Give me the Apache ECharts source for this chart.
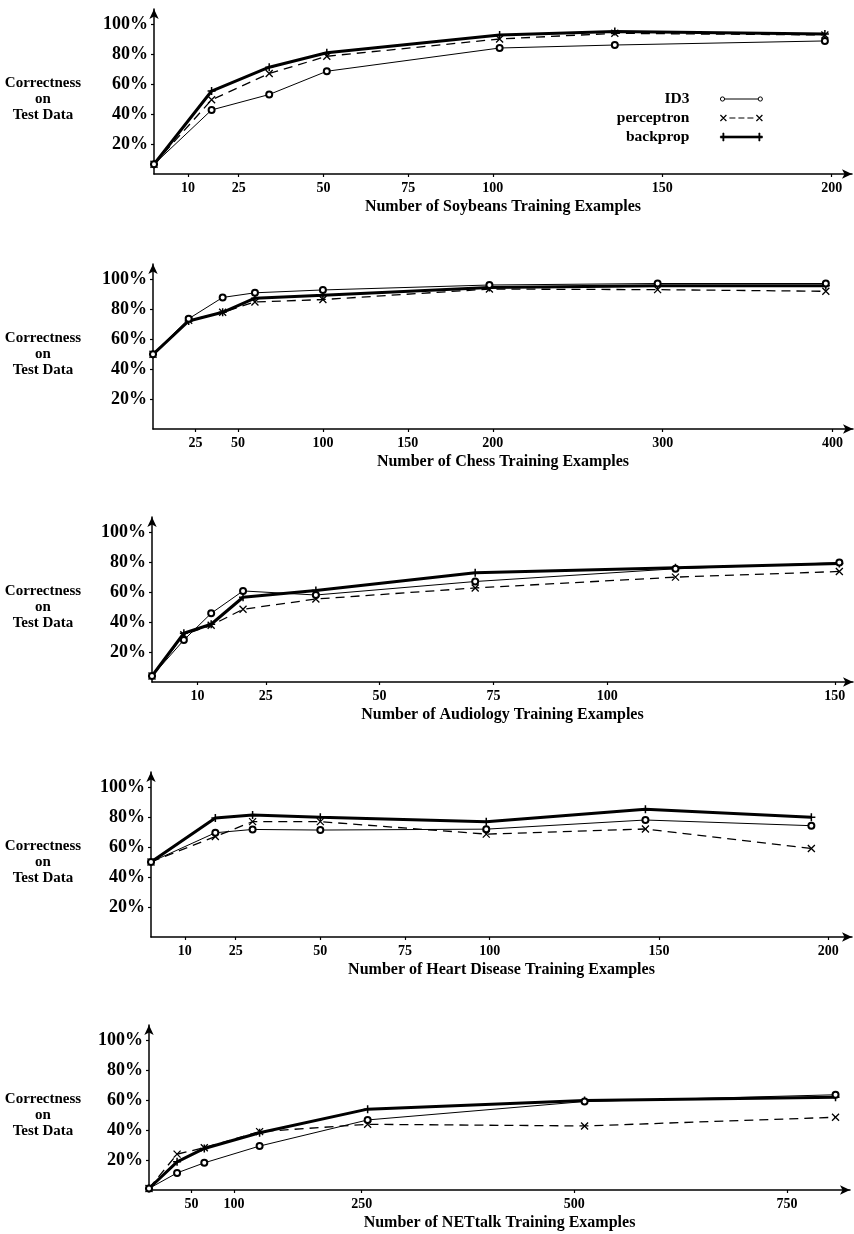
<!DOCTYPE html>
<html>
<head>
<meta charset="utf-8">
<script src="https://cdn.jsdelivr.net/npm/echarts@6/dist/echarts.min.js"></script>
<style>
html,body{margin:0;padding:0;background:#fff;}
#chart{width:854px;height:1234px;}
</style>
</head>
<body>
<div id="chart"></div>
<script>
// ---------- DATA ----------
const methodNames = ['ID3', 'perceptron', 'backprop'];
const yTickValues = [20, 40, 60, 80, 100];

// Soybeans
const soyTitle = 'Number of Soybeans Training Examples';
const soyTicks = [10, 25, 50, 75, 100, 150, 200];
const soyX     = [0, 17, 34, 51, 102, 136, 198];
const soyID3   = [6.5, 42.7, 53, 68.5, 84, 86, 88.7];
const soyPerc  = [6.5, 49.5, 67, 78.5, 90, 93.8, 92.7];
const soyBP    = [6.5, 55.3, 71.2, 80.8, 92.7, 95, 93.3];

// Chess
const chessTitle = 'Number of Chess Training Examples';
const chessTicks = [25, 50, 100, 150, 200, 300, 400];
const chessX     = [0, 21, 41, 60, 100, 198, 297, 396];
const chessID3   = [49.8, 73.5, 87.7, 90.8, 92.7, 96, 97, 97];
const chessPerc  = [49.8, 72.5, 77.8, 84.7, 86.3, 93.3, 92.9, 91.8];
const chessBP    = [49.8, 72, 77.8, 87.2, 89.2, 94.4, 95.5, 95.5];

// Audiology
const audTitle = 'Number of Audiology Training Examples';
const audTicks = [10, 25, 50, 75, 100, 150];
const audX     = [0, 7, 13, 20, 36, 71, 115, 151];
const audID3   = [4, 28, 45.8, 60.7, 58, 67, 75.5, 79.6];
const audPerc  = [4, 31.5, 37.8, 48.5, 55.3, 62.7, 69.9, 73.7];
const audBP    = [4, 32.5, 38.5, 56.5, 61, 72.8, 76.2, 79];

// Heart disease
const heartTitle = 'Number of Heart Disease Training Examples';
const heartTicks = [10, 25, 50, 75, 100, 150, 200];
const heartX     = [0, 19, 30, 50, 99, 146, 195];
const heartID3   = [50, 69.5, 71.7, 71.3, 71.9, 78, 74.2];
const heartPerc  = [50, 67, 76.9, 76.9, 68.6, 72, 59];
const heartBP    = [50, 79.3, 81.3, 79.8, 76.9, 85.1, 79.8];

// NETtalk
const netTitle = 'Number of NETtalk Training Examples';
const netTicks = [50, 100, 250, 500, 750];
const netX     = [0, 33, 65, 130, 257, 512, 807];
const netID3   = [1, 11.4, 18.1, 29.3, 46.7, 59, 63.5];
const netPerc  = [1, 23.9, 28.2, 38.9, 43.8, 42.7, 48.5];
const netBP    = [1, 18.8, 27.7, 38.2, 53.9, 59.7, 61.9];

// ---------- LAYOUT ----------
const FONT = '"Liberation Serif", "Times New Roman", serif';
const panels = [
  {title: soyTitle,   ticks: soyTicks,   x: soyX,   ys: [soyID3, soyPerc, soyBP],       left: 154, right: 2, top: 9,    xMax: 206},
  {title: chessTitle, ticks: chessTicks, x: chessX, ys: [chessID3, chessPerc, chessBP], left: 153, right: 1, top: 264,  xMax: 412},
  {title: audTitle,   ticks: audTicks,   x: audX,   ys: [audID3, audPerc, audBP],       left: 152, right: 1, top: 517,  xMax: 154},
  {title: heartTitle, ticks: heartTicks, x: heartX, ys: [heartID3, heartPerc, heartBP], left: 151, right: 2, top: 772,  xMax: 207},
  {title: netTitle,   ticks: netTicks,   x: netX,   ys: [netID3, netPerc, netBP],       left: 149, right: 4, top: 1025, xMax: 824}
];
const PLOT_H = 165;

const grids = [], xAxes = [], yAxes = [], series = [];
const axisLineStyle = {color: '#000', width: 1.5};

const seriesStyles = [
  { // ID3
    symbol: 'emptyCircle', symbolSize: 6,
    itemStyle: {color: '#000', borderColor: '#000', borderWidth: 1},
    lineStyle: {color: '#000', width: 1}, z: 5
  },
  { // perceptron
    symbol: 'path://M0,0 L10,10 M0,10 L10,0', symbolSize: 7,
    itemStyle: {color: '#000', borderColor: '#000', borderWidth: 1.3},
    lineStyle: {color: '#000', width: 1.3, type: [9, 6]}, z: 3
  },
  { // backprop
    symbol: 'path://M5,0 L5,10 M0,5 L10,5', symbolSize: 8,
    itemStyle: {color: '#000', borderColor: '#000', borderWidth: 1.5},
    lineStyle: {color: '#000', width: 3}, z: 4
  }
];

panels.forEach((p, i) => {
  grids.push({left: p.left, right: p.right, top: p.top, height: PLOT_H,
              containLabel: false, outerBoundsMode: 'none'});
  xAxes.push({
    type: 'value', gridIndex: i, min: 0, max: p.xMax,
    name: p.title, nameLocation: 'middle', nameGap: 25,
    nameTextStyle: {fontFamily: FONT, fontWeight: 'bold', fontSize: 16, color: '#000'},
    axisLine: {show: true, lineStyle: axisLineStyle, symbol: ['none', 'arrow'], symbolSize: [7, 10]},
    axisTick: {show: true, length: 3, customValues: p.ticks, lineStyle: {color: '#000', width: 1.2}},
    axisLabel: {show: true, customValues: p.ticks, margin: 7, fontFamily: FONT, fontWeight: 'bold', fontSize: 14, color: '#000'},
    splitLine: {show: false}
  });
  yAxes.push({
    type: 'value', gridIndex: i, min: 0, max: 110,
    name: '\nCorrectness\non\nTest Data', nameLocation: 'middle', nameRotate: 0, nameGap: p.left - 43,
    nameTextStyle: {fontFamily: FONT, fontWeight: 'bold', fontSize: 15, color: '#000', align: 'center',
                    verticalAlign: 'middle', lineHeight: 16},
    axisLine: {show: true, lineStyle: axisLineStyle, symbol: ['none', 'arrow'], symbolSize: [7, 10]},
    axisTick: {show: true, length: 3, customValues: yTickValues, lineStyle: {color: '#000', width: 1.2}},
    axisLabel: {show: true, customValues: yTickValues, margin: 6, formatter: '{value}%',
                fontFamily: FONT, fontWeight: 'bold', fontSize: 18, color: '#000'},
    splitLine: {show: false}
  });
  p.ys.forEach((vals, k) => {
    const st = seriesStyles[k];
    series.push(Object.assign({
      type: 'line', name: methodNames[k], xAxisIndex: i, yAxisIndex: i,
      data: p.x.map((xv, j) => [xv, vals[j]]),
      showSymbol: true, animation: false, silent: true
    }, st));
  });
});

const legendIcons = [
  'path://M1,4 a2,2 0 1,0 4,0 a2,2 0 1,0 -4,0 M5,4 L37,4 M37,4 a2,2 0 1,0 4,0 a2,2 0 1,0 -4,0',
  'path://M0,1 L6,7 M0,7 L6,1 M9,4 L15,4 M18,4 L24,4 M27,4 L33,4 M36,1 L42,7 M36,7 L42,1',
  'path://M0,3 L42,3 L42,5 L0,5 Z M2.4,0 L3.6,0 L3.6,8 L2.4,8 Z M38.4,0 L39.6,0 L39.6,8 L38.4,8 Z'
];
const legendItemStyles = [
  {color: '#fff', borderColor: '#000', borderWidth: 1},
  {color: '#000', borderColor: '#000', borderWidth: 1.2},
  {color: '#000', borderColor: '#000', borderWidth: 0.6}
];

const option = {
  backgroundColor: '#fff',
  animation: false,
  grid: grids,
  xAxis: xAxes,
  yAxis: yAxes,
  legend: {
    orient: 'vertical', right: 91, top: 91, padding: 0, align: 'right',
    itemWidth: 42, itemHeight: 8, itemGap: 3, selectedMode: false,
    textStyle: {fontFamily: FONT, fontWeight: 'bold', fontSize: 15.5, color: '#000', lineHeight: 16, padding: [0, 26, 0, 0]},
    data: methodNames.map((n, k) => ({name: n, icon: legendIcons[k], itemStyle: legendItemStyles[k]}))
  },
  series: series
};

const chart = echarts.init(document.getElementById('chart'), null, {renderer: 'canvas'});
chart.setOption(option);
</script>
</body>
</html>
